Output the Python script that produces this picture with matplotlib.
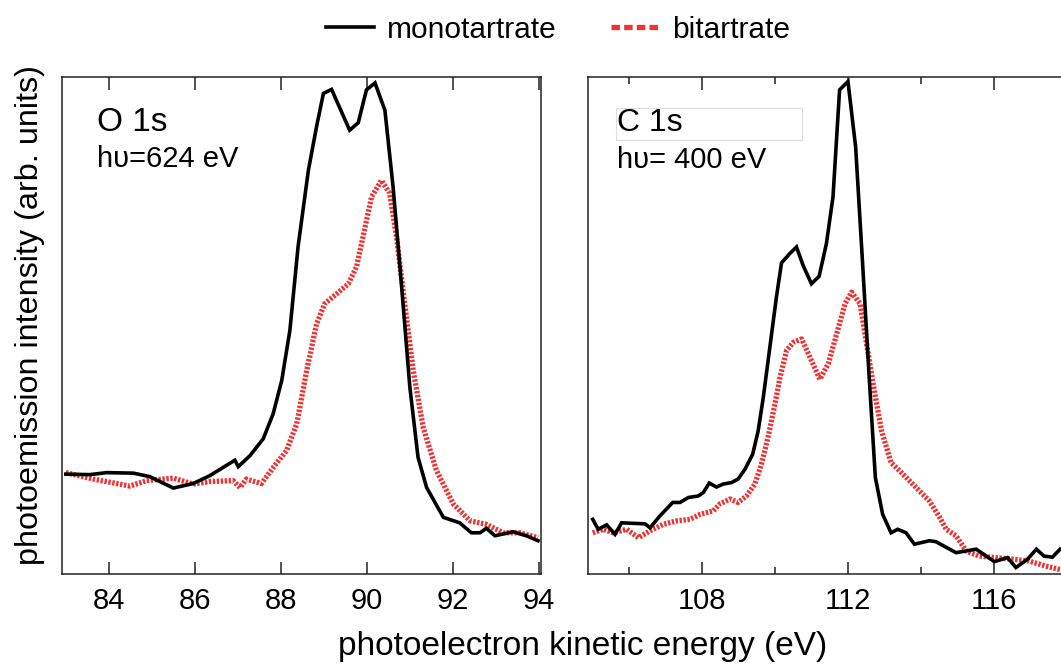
import matplotlib.pyplot as plt
from matplotlib.lines import Line2D
from matplotlib.patches import Rectangle

plt.rcParams['font.family'] = ['Liberation Sans', 'DejaVu Sans']

# O 1s spectra (hv = 624 eV), intensity in arb. units
o1s_mono_e = [83.0, 83.56, 83.95, 84.57, 84.95, 85.50, 85.96, 86.35, 86.93, 87.01,
              87.28, 87.59, 87.82, 88.02, 88.21, 88.40, 88.64, 88.83, 88.99, 89.18,
              89.60, 89.80, 89.99, 90.19, 90.42, 90.61, 90.81, 91.00, 91.19, 91.39,
              91.78, 92.16, 92.43, 92.63, 92.78, 92.98, 93.40, 93.71, 93.98]
o1s_mono_i = [0.201, 0.200, 0.204, 0.203, 0.196, 0.173, 0.182, 0.198, 0.229, 0.216,
              0.238, 0.272, 0.322, 0.389, 0.490, 0.658, 0.812, 0.900, 0.967, 0.975,
              0.893, 0.908, 0.974, 0.988, 0.933, 0.779, 0.577, 0.376, 0.235, 0.174,
              0.114, 0.103, 0.083, 0.083, 0.092, 0.077, 0.085, 0.077, 0.067]

o1s_bi_e = [83.0, 83.64, 84.49, 84.88, 85.50, 85.96, 86.35, 86.89, 87.05, 87.20,
            87.55, 87.82, 88.13, 88.37, 88.60, 88.83, 89.02, 89.30, 89.57, 89.76,
            89.91, 90.11, 90.34, 90.53, 90.69, 90.88, 91.08, 91.31, 91.62, 92.01,
            92.40, 92.78, 93.17, 93.56, 93.98]
o1s_bi_i = [0.204, 0.191, 0.177, 0.188, 0.193, 0.181, 0.186, 0.188, 0.174, 0.191,
            0.182, 0.214, 0.248, 0.302, 0.409, 0.503, 0.544, 0.564, 0.584, 0.618,
            0.678, 0.759, 0.792, 0.766, 0.678, 0.544, 0.409, 0.295, 0.208, 0.141,
            0.107, 0.100, 0.083, 0.083, 0.073]

# C 1s spectra (hv = 400 eV)
c1s_mono_e = [105.01, 105.16, 105.39, 105.62, 105.80, 106.44, 106.58, 106.85, 107.20, 107.40,
              107.63, 107.90, 108.04, 108.20, 108.40, 108.58, 108.81, 108.99, 109.18, 109.39,
              109.54, 109.68, 109.86, 110.04, 110.18, 110.41, 110.59, 110.77, 111.00, 111.21,
              111.41, 111.59, 111.77, 112.00, 112.21, 112.39, 112.57, 112.75, 112.95, 113.18,
              113.36, 113.59, 113.82, 114.23, 114.41, 114.96, 115.51, 116.01, 116.37, 116.60,
              116.92, 117.16, 117.37, 117.60, 117.81]
c1s_mono_i = [0.110, 0.090, 0.099, 0.080, 0.103, 0.101, 0.093, 0.117, 0.144, 0.144,
              0.154, 0.157, 0.164, 0.183, 0.175, 0.181, 0.184, 0.191, 0.211, 0.241,
              0.288, 0.355, 0.456, 0.557, 0.626, 0.645, 0.658, 0.621, 0.584, 0.599,
              0.665, 0.759, 0.974, 0.991, 0.859, 0.638, 0.409, 0.194, 0.120, 0.083,
              0.090, 0.083, 0.060, 0.067, 0.065, 0.043, 0.050, 0.025, 0.033, 0.013,
              0.030, 0.050, 0.036, 0.034, 0.050]

c1s_bi_e = [105.01, 105.30, 105.57, 105.94, 106.26, 106.58, 106.94, 107.31, 107.67, 107.95,
            108.31, 108.49, 108.77, 108.99, 109.22, 109.45, 109.63, 109.81, 110.00, 110.14,
            110.32, 110.50, 110.73, 110.96, 111.23, 111.46, 111.69, 111.92, 112.10, 112.33,
            112.51, 112.69, 112.92, 113.18, 113.41, 113.64, 113.96, 114.23, 114.51, 114.69,
            114.96, 115.24, 115.60, 116.05, 116.51, 116.96, 117.42, 117.81]
c1s_bi_i = [0.083, 0.090, 0.083, 0.090, 0.073, 0.087, 0.100, 0.107, 0.110, 0.120,
            0.127, 0.141, 0.151, 0.144, 0.157, 0.181, 0.221, 0.275, 0.342, 0.396,
            0.450, 0.466, 0.473, 0.436, 0.392, 0.423, 0.483, 0.544, 0.567, 0.544,
            0.463, 0.382, 0.288, 0.224, 0.208, 0.191, 0.167, 0.147, 0.114, 0.090,
            0.077, 0.046, 0.036, 0.033, 0.030, 0.026, 0.016, 0.009]

o1s_ticks = [84, 86, 88, 90, 92, 94]
c1s_major = [108, 112, 116]
c1s_minor = [106, 110, 114, 118]

red = '#ee3333'
mono_style = dict(color='black', lw=2.6, solid_joinstyle='miter')
bi_style = dict(color=red, lw=3.8, linestyle=(0, (0.45, 0.3)))

fig = plt.figure(figsize=(10.61, 6.65), dpi=100)
ax1 = fig.add_axes([0.0584, 0.1368, 0.4515, 0.7474])
ax2 = fig.add_axes([0.5542, 0.1368, 0.4515, 0.7474])

ax1.plot(o1s_bi_e, o1s_bi_i, **bi_style)
ax1.plot(o1s_mono_e, o1s_mono_i, **mono_style)
ax2.plot(c1s_bi_e, c1s_bi_i, **bi_style)
ax2.plot(c1s_mono_e, c1s_mono_i, **mono_style)

ax1.set_xlim(82.91, 94.05)
ax2.set_xlim(104.88, 118.0)
for ax in (ax1, ax2):
    ax.set_ylim(0, 1)
    ax.set_yticks([])
    for s in ax.spines.values():
        s.set_color('#222222')
        s.set_linewidth(1.1)
    ax.tick_params(axis='x', which='both', direction='in', top=True, bottom=True,
                   labelsize=21, pad=9, color='#222222', width=1.1)
    ax.tick_params(axis='x', which='major', length=9)
    ax.tick_params(axis='x', which='minor', length=5)

ax1.set_xticks(o1s_ticks)
ax2.set_xticks(c1s_major)
ax2.set_xticks(c1s_minor, minor=True)

ax1.text(0.073, 0.891, 'O 1s', transform=ax1.transAxes, fontsize=24, va='baseline')
ax1.text(0.073, 0.819, 'h\u03c5=624 eV', transform=ax1.transAxes, fontsize=21, va='baseline')
ax2.add_patch(Rectangle((0.058, 0.873), 0.389, 0.065, transform=ax2.transAxes,
                        fill=False, edgecolor='#dddddd', lw=0.8))
ax2.text(0.0605, 0.891, 'C 1s', transform=ax2.transAxes, fontsize=23, va='baseline')
ax2.text(0.0605, 0.817, 'h\u03c5= 400 eV', transform=ax2.transAxes, fontsize=21, va='baseline')

fig.text(0.028, 0.526, 'photoemission intensity (arb. units)', rotation=90,
         ha='center', va='center', fontsize=23.3)
fig.text(0.549, 0.015, 'photoelectron kinetic energy (eV)', ha='center',
         va='baseline', fontsize=24)

handles = [Line2D([], [], color='black', lw=2.6),
           Line2D([], [], color=red, lw=3.8, linestyle=(0, (1.6, 0.8)))]
fig.legend(handles, ['monotartrate', 'bitartrate'], loc='upper center',
           bbox_to_anchor=(0.526, 1.017), ncol=2, frameon=False, fontsize=21.5,
           handlelength=1.6, handletextpad=0.45, columnspacing=1.8)

fig.savefig('out.png', dpi=100)
